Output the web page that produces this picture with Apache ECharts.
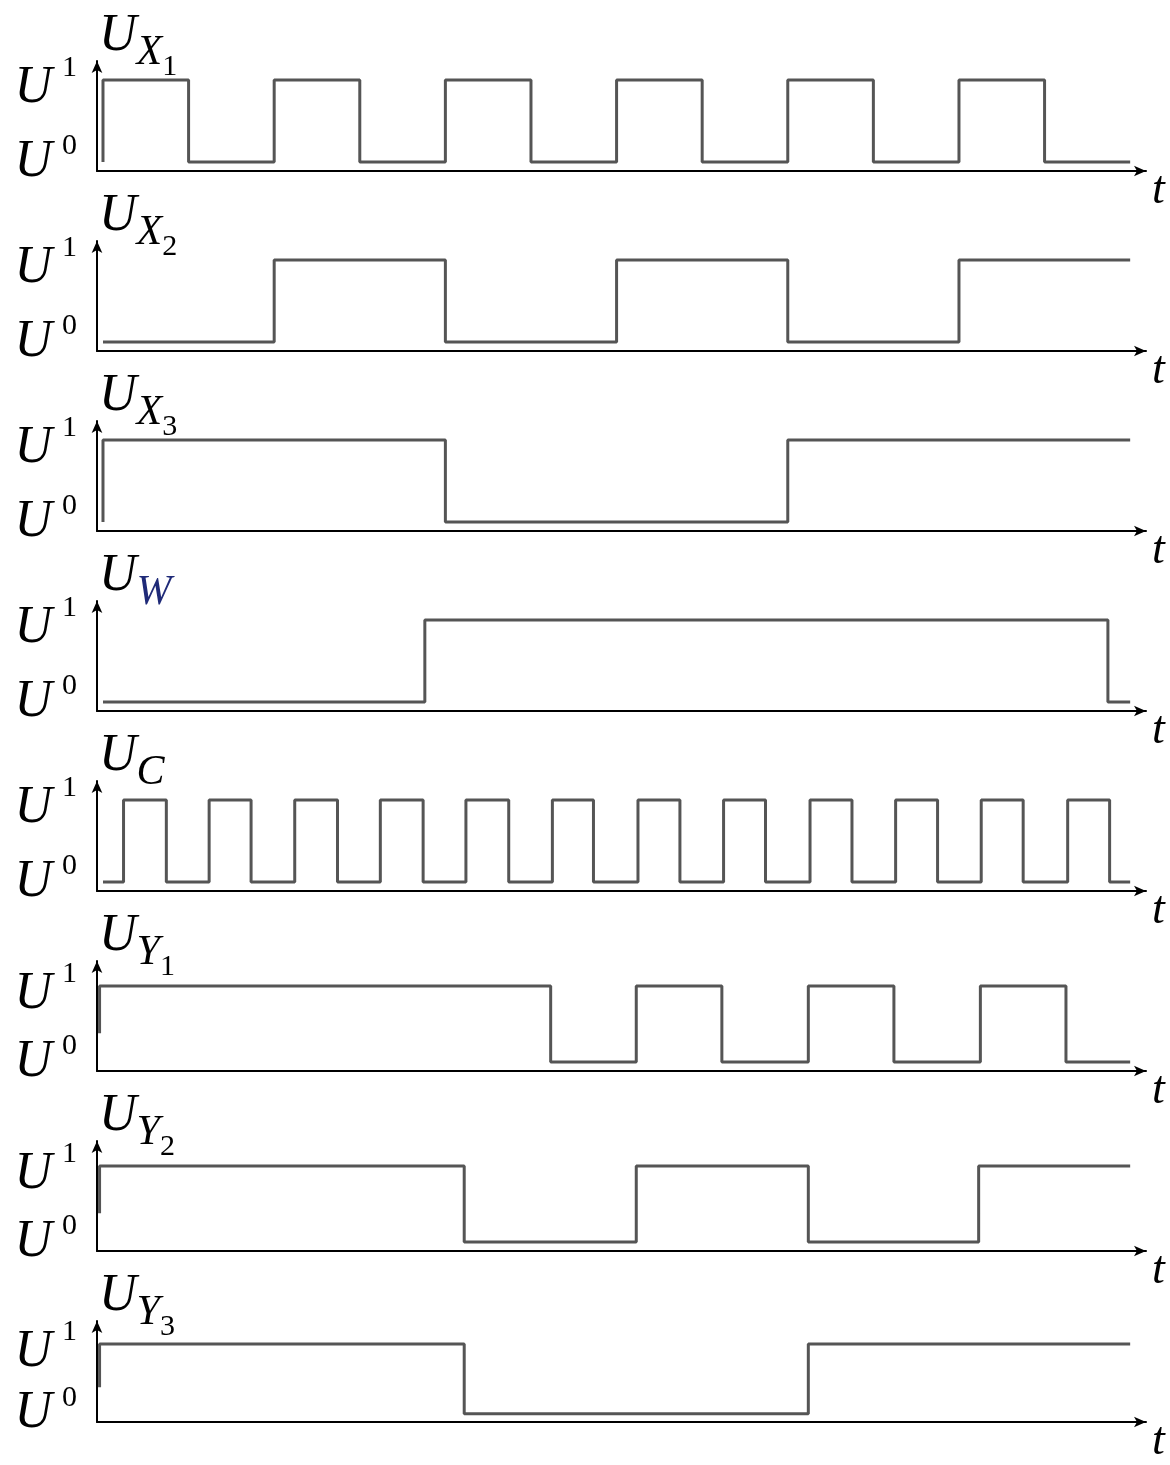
<!DOCTYPE html>
<html>
<head>
<meta charset="utf-8">
<script src="https://cdn.jsdelivr.net/npm/echarts@6/dist/echarts.min.js"></script>
<style>
  html, body { margin: 0; padding: 0; background: #fff; }
  #chart { width: 1170px; height: 1465px; }
</style>
</head>
<body>
<div id="chart"></div>
<script>
  // signal names (U with subscript letter + digit)
  const titleLetters = ['X', 'X', 'X', 'W', 'C', 'Y', 'Y', 'Y'];
  const titleDigits = ['1', '2', '3', '', '', '1', '2', '3'];
  const levelTicks = [0, 1];

  // edge times (t units) and the level held between consecutive edges
  const ux1Edges = [0, 1, 2, 3, 4, 5, 6, 7, 8, 9, 10, 11, 12];
  const ux1Levels = [1, 0, 1, 0, 1, 0, 1, 0, 1, 0, 1, 0];
  const ux2Edges = [0, 2, 4, 6, 8, 10, 12];
  const ux2Levels = [0, 1, 0, 1, 0, 1];
  const ux3Edges = [0, 4, 8, 12];
  const ux3Levels = [1, 0, 1];
  const uwEdges = [0, 3.76, 11.74, 12];
  const uwLevels = [0, 1, 0];
  const ucEdges = [0, 0.24, 0.74, 1.24, 1.73, 2.24, 2.74, 3.24, 3.74, 4.24, 4.74, 5.25, 5.73,
    6.25, 6.74, 7.25, 7.74, 8.26, 8.75, 9.26, 9.75, 10.26, 10.75, 11.27, 11.76, 12];
  const ucLevels = [0, 1, 0, 1, 0, 1, 0, 1, 0, 1, 0, 1, 0, 1, 0, 1, 0, 1, 0, 1, 0, 1, 0, 1, 0];
  const uy1Edges = [0, 5.23, 6.23, 7.23, 8.24, 9.24, 10.25, 11.25, 12];
  const uy1Levels = [1, 0, 1, 0, 1, 0, 1, 0];
  const uy2Edges = [0, 4.22, 6.23, 8.24, 10.23, 12];
  const uy2Levels = [1, 0, 1, 0, 1];
  const uy3Edges = [0, 4.22, 8.24, 12];
  const uy3Levels = [1, 0, 1];

  // start-up points before the first edge
  const ux1Lead = [[0, 0]];
  const ux3Lead = [[0, 0]];
  const uyLead = [[-0.04, 0.38], [-0.04, 1]];

  const signals = [
    { lead: ux1Lead, edges: ux1Edges, levels: ux1Levels },
    { lead: [], edges: ux2Edges, levels: ux2Levels },
    { lead: ux3Lead, edges: ux3Edges, levels: ux3Levels },
    { lead: [], edges: uwEdges, levels: uwLevels },
    { lead: [], edges: ucEdges, levels: ucLevels },
    { lead: uyLead, edges: uy1Edges, levels: uy1Levels },
    { lead: uyLead, edges: uy2Edges, levels: uy2Levels },
    { lead: uyLead, edges: uy3Edges, levels: uy3Levels }
  ];

  function stepPoints(sig) {
    const pts = sig.lead.slice();
    for (let i = 0; i < sig.levels.length; i++) {
      pts.push([sig.edges[i], sig.levels[i]]);
      pts.push([sig.edges[i + 1], sig.levels[i]]);
    }
    return pts;
  }

  const serif = 'Liberation Serif';
  const grids = [], xAxes = [], yAxes = [], series = [];

  for (let i = 0; i < 8; i++) {
    const axisY = 171 + 180 * i;
    const isY = i >= 5;
    grids.push({ left: 97, width: 1049, top: axisY - 110, height: 110 });
    xAxes.push({
      gridIndex: i,
      type: 'value',
      min: -0.07,
      max: 12.185,
      axisLine: { onZero: false, symbol: ['none', 'arrow'], symbolSize: [8, 12],
        lineStyle: { color: '#000', width: 2 } },
      axisTick: { show: false },
      axisLabel: { show: false },
      splitLine: { show: false },
      name: 't',
      nameLocation: 'end',
      nameGap: 6,
      nameTextStyle: { fontFamily: serif, fontStyle: 'italic', fontSize: 46, lineHeight: 40,
        color: '#000', align: 'left', verticalAlign: 'top' }
    });
    const letterStyle = titleLetters[i] === 'W' ? 'w' : 'x';
    yAxes.push({
      gridIndex: i,
      type: 'value',
      min: isY ? -0.118 : -0.11,
      max: isY ? 1.329 : 1.232,
      axisLine: { onZero: false, symbol: ['none', 'arrow'], symbolSize: [8, 12],
        lineStyle: { color: '#000', width: 2 } },
      axisTick: { show: false },
      splitLine: { show: false },
      axisLabel: {
        customValues: levelTicks,
        margin: 20,
        formatter: function (v) {
          return v === 1 ? '{u1|U}{s1|1}' : '{u0|U}{s0|0}';
        },
        rich: {
          u1: { fontFamily: serif, fontStyle: 'italic', fontSize: 52, height: 52, padding: [17, 0, 0, 0], color: '#000' },
          s1: { fontFamily: serif, fontSize: 30, height: 46, verticalAlign: 'top', padding: [0, 0, 0, 10], color: '#000' },
          u0: { fontFamily: serif, fontStyle: 'italic', fontSize: 52, height: 52, color: '#000' },
          s0: { fontFamily: serif, fontSize: 30, height: 20, verticalAlign: 'top', padding: [0, 0, 0, 10], color: '#000' }
        }
      },
      name: '{u|U}{' + letterStyle + '|' + titleLetters[i] + '}' + (titleDigits[i] ? '{n|' + titleDigits[i] + '}' : ''),
      nameLocation: 'end',
      nameGap: 43,
      nameTextStyle: {
        align: 'left',
        verticalAlign: 'top',
        padding: [0, 0, 0, 2],
        rich: {
          u: { fontFamily: serif, fontStyle: 'italic', fontSize: 52, height: 37, verticalAlign: 'top', color: '#000' },
          x: { fontFamily: serif, fontStyle: 'italic', fontSize: 42, height: 70, verticalAlign: 'top', color: '#000' },
          w: { fontFamily: serif, fontStyle: 'italic', fontSize: 42, height: 70, verticalAlign: 'top', color: '#1f2a78' },
          n: { fontFamily: serif, fontSize: 30, height: 99, verticalAlign: 'top', color: '#000' }
        }
      }
    });
    series.push({
      type: 'line',
      xAxisIndex: i,
      yAxisIndex: i,
      data: stepPoints(signals[i]),
      showSymbol: false,
      lineStyle: { color: '#555', width: 3 },
      animation: false
    });
  }

  const myChart = echarts.init(document.getElementById('chart'));
  myChart.setOption({
    animation: false,
    grid: grids,
    xAxis: xAxes,
    yAxis: yAxes,
    series: series
  });
  window.addEventListener('resize', function () {
    myChart.resize();
  });
</script>
</body>
</html>
